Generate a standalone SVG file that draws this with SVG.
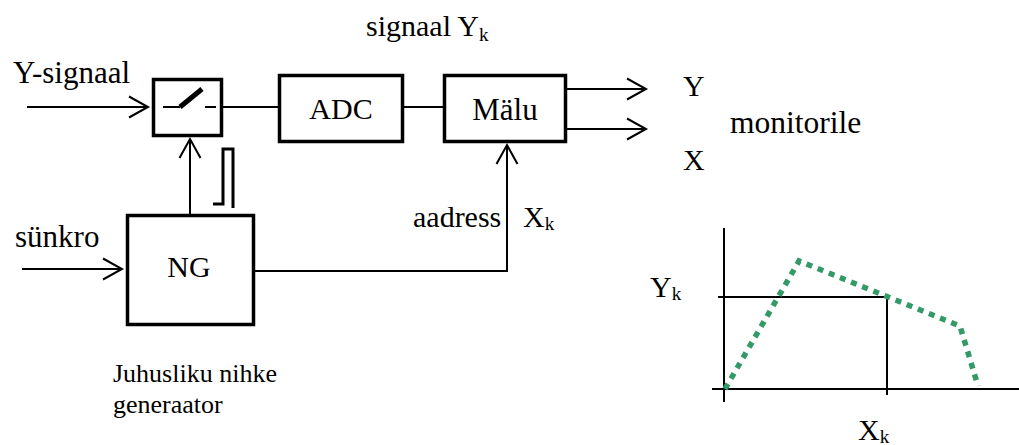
<svg xmlns="http://www.w3.org/2000/svg" width="1019" height="445" viewBox="0 0 1019 445">
<style>
.box{fill:#fff;stroke:#000;stroke-width:3.5}
.ln{fill:none;stroke:#000;stroke-width:2}
.arr{marker-end:url(#arr)}
</style>
<defs>
<marker id="arr" markerUnits="userSpaceOnUse" markerWidth="22" markerHeight="24" refX="19" refY="10.5" orient="auto" overflow="visible">
<path d="M0,0 L19,10.5 L0,21" fill="none" stroke="#000" stroke-width="2"/>
</marker>
</defs>
<rect width="1019" height="445" fill="#fff"/>

<g id="connectors">
<path class="ln arr" d="M27,107 H148"/>
<path class="ln" d="M222,107 H279"/>
<path class="ln" d="M404,107 H444"/>
<path class="ln arr" d="M567,89 H646"/>
<path class="ln arr" d="M567,129 H646"/>
<path class="ln arr" d="M22,269 H122"/>
<path class="ln arr" d="M190,214 V139"/>
<path class="ln arr" d="M255,271 H507 V145"/>
</g>

<g id="switch">
<rect class="box" x="153.5" y="79.5" width="68" height="56"/>
<path class="ln" d="M163,107 H180 M205,107 H216"/>
<path d="M180,107 L202,89" stroke="#000" stroke-width="5" fill="none"/>
</g>

<g id="pulse">
<path d="M213,204 H223 V149 H233 V208" fill="none" stroke="#000" stroke-width="3"/>
</g>

<g id="adc">
<rect class="box" x="279.5" y="75.5" width="123" height="66"/>
<text x="341" y="119" text-anchor="middle" font-family="Liberation Serif" font-size="30">ADC</text>
</g>

<g id="malu">
<rect class="box" x="444.5" y="75.5" width="121" height="66"/>
<text x="505" y="120" text-anchor="middle" font-family="Liberation Serif" font-size="31">Mälu</text>
</g>

<g id="ng">
<rect class="box" x="127.5" y="215.5" width="126" height="109"/>
<text x="189" y="277" text-anchor="middle" font-family="Liberation Serif" font-size="30">NG</text>
</g>

<g id="labels">
<text x="13" y="83" font-family="Liberation Serif" font-size="31">Y-signaal</text>
<text x="15" y="247" font-family="Liberation Serif" font-size="31">sünkro</text>
<text x="366" y="36" font-family="Liberation Serif" font-size="30">signaal Y<tspan font-size="19" dy="5">k</tspan></text>
<text x="683" y="96" font-family="Liberation Serif" font-size="30">Y</text>
<text x="683" y="170" font-family="Liberation Serif" font-size="30">X</text>
<text x="730" y="133" font-family="Liberation Serif" font-size="31.5">monitorile</text>
<text x="413" y="227" font-family="Liberation Serif" font-size="30">aadress</text>
<text x="523" y="227" font-family="Liberation Serif" font-size="30">X<tspan font-size="19" dy="3">k</tspan></text>
<text x="113" y="382" font-family="Liberation Serif" font-size="26">Juhusliku nihke</text>
<text x="113" y="413" font-family="Liberation Serif" font-size="26">generaator</text>
</g>

<g id="graph">
<path class="ln" d="M724,228 V402 M712,389 H1019"/>
<path class="ln" d="M718,297 H887 V395"/>
<polyline points="725,389 799,261 960,326 978,386" fill="none" stroke="#339966" stroke-width="5.5" stroke-dasharray="6 6"/>
<text x="650" y="297" font-family="Liberation Serif" font-size="30">Y<tspan font-size="19" dy="3">k</tspan></text>
<text x="858" y="440" font-family="Liberation Serif" font-size="30">X<tspan font-size="19" dy="3">k</tspan></text>
</g>
</svg>
